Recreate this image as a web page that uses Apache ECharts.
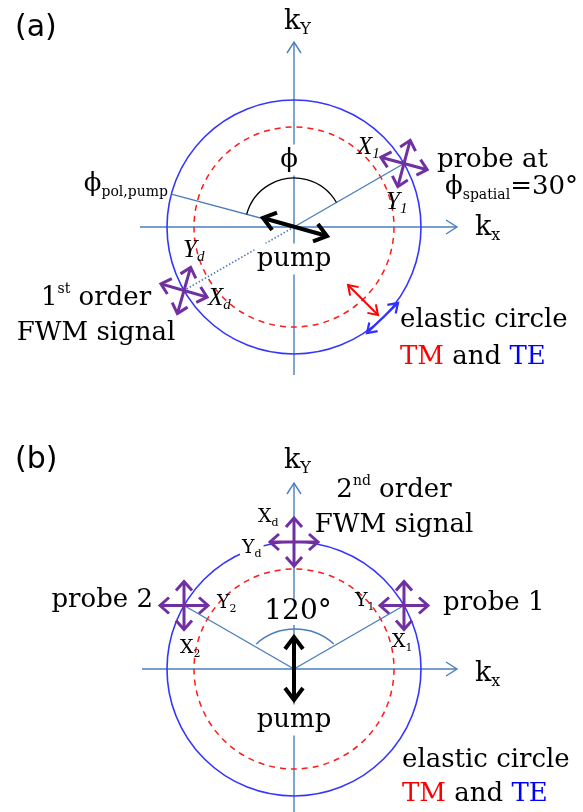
<!DOCTYPE html>
<html><head><meta charset="utf-8">
<script src="https://cdn.jsdelivr.net/npm/echarts@6/dist/echarts.min.js"></script>
<style>html,body{margin:0;padding:0;background:#fff}#c{width:583px;height:812px}</style>
</head><body><div id="c"></div>
<script>
// ---------------- values (k-space drawing units) ----------------
const circleNames = ['TE', 'TM'];
const circleRadii = [127, 100];          // elastic circles: TE (blue, solid), TM (red, dashed)
// panel (a)
const probeAnglesA = [30];               // φ_spatial of the probe (deg)
const pumpPolAngleA = 165;               // φ_pol,pump line (deg)
const fwmAnglesA = [210];                // 1st order FWM signal direction (deg)
const polTiltA = [-15, -16];             // tilt of X/Y polarisation crosses (probe, signal)
const phiArcA = [49, 30, 165];           // arc radius, start, end (deg)
const pumpAxisA = [[-31, 9], [33, -9]];  // pump polarisation double arrow
const tmMarkA = [[54, -58], [84, -88]];  // red TM double arrow
const teMarkA = [[73, -106], [104, -76]];// blue TE double arrow
const kxSpanA = [-154, 163];
const kySpanA = [-148, 185];
// panel (b)
const probeAnglesB = [30, 150];
const fwmAnglesB = [90];
const polTiltB = [0, 0, 0];
const arcB = [58, 48, 132];              // 120° marker arc: radius, start, end
const arcCenterB = [1, -18];
const pumpAxisB = [[0, 32], [0, -31]];
const kxSpanB = [-152, 163];
const kySpanB = [-143, 186];

// texts
const labelsA = ['{m|(a)}', '{m|k}{s|Y}', '{m|ϕ}', '{m|ϕ}{s|pol,pump}', '{m|X}{s|1}', '{m|Y}{s|1}',
  '{m|probe at}', '{m|ϕ}{s|spatial}{m|=30°}', '{m|pump}', '{m|Y}{s|d}', '{m|X}{s|d}',
  '{m|1}{t|st}{m| order}', '{m|FWM signal}', '{m|elastic circle}', '{r|TM}{m| and }{b|TE}'];
const labelsB = ['{m|(b)}', '{m|k}{s|Y}', '{m|k}{s|x}', '{m|X}{s|d}', '{m|Y}{s|d}', '{m|Y}{s|2}', '{m|X}{s|2}',
  '{m|Y}{s|1}', '{m|X}{s|1}', '{m|probe 2}', '{m|probe 1}', '{m|2}{t|nd}{m| order}', '{m|FWM signal}',
  '{m|120°}', '{m|pump}', '{m|elastic circle}', '{r|TM}{m| and }{b|TE}'];
const kxLabelA = '{m|k}{s|x}';

// ---------------- layout / styles ----------------
const layoutA = [
  [-279, 199, 'left', 'panel', 0], [-10, 205, 'left', 'k', 0], [-5, 67, 'center', 'big', 1],
  [-126, 43, 'right', 'big', 0], [63, 80, 'left', 'ital', 0], [92, 25, 'left', 'ital', 0],
  [143, 67, 'left', 'big', 0], [151, 40, 'left', 'big', 0], [0, -32, 'center', 'big', 1],
  [-111, -23, 'left', 'ital', 0], [-86, -71, 'left', 'ital', 0], [-198, -71, 'center', 'big', 0],
  [-198, -106, 'center', 'big', 0], [106, -93, 'left', 'big', 0], [106, -130, 'left', 'big', 0],
  [181, -1, 'left', 'k', 0]
];
const layoutB = [
  [-279, 209, 'left', 'panel', 0], [-10, 208, 'left', 'k', 0], [181, -5, 'left', 'k', 0],
  [-36, 152, 'left', 'small', 0], [-54, 121, 'left', 'small', 1], [-77, 66, 'left', 'small', 0],
  [-114, 21, 'left', 'small', 0], [61, 68, 'left', 'small', 0], [98, 27, 'left', 'small', 0],
  [-141, 69, 'right', 'big', 0], [149, 66, 'left', 'big', 0], [100, 179, 'center', 'big', 0],
  [100, 144, 'center', 'big', 0], [4, 57, 'center', 'deg', 1], [0, -51, 'center', 'big', 1],
  [108, -91, 'left', 'big', 0], [108, -125, 'left', 'big', 0]
];

const SERIF = '"DejaVu Serif", serif';
const TIMES = '"Liberation Serif", serif';
const SANS = '"DejaVu Sans", sans-serif';
const presets = {
  panel: {font: SANS, size: 30, sub: 14, lh: 36},
  big: {font: SERIF, size: 26, sub: 14, lh: 31},
  k: {font: SERIF, size: 27, sub: 16, lh: 32},
  ital: {font: TIMES, size: 25, sub: 15, lh: 30, italic: true},
  small: {font: SERIF, size: 19, sub: 11, lh: 23},
  deg: {font: SERIF, size: 28, sub: 14, lh: 26}
};
function richFor(p) {
  const fs = p.italic ? 'italic' : 'normal';
  const base = {fontFamily: p.font, fontSize: p.size, fontStyle: fs, lineHeight: p.lh, fill: '#000'};
  const small = {fontFamily: p.font, fontSize: p.sub, fontStyle: fs, lineHeight: p.sub - 2, fill: '#000'};
  return {
    m: base,
    s: Object.assign({}, small, {verticalAlign: 'bottom'}),
    t: Object.assign({}, small, {verticalAlign: 'top'}),
    r: Object.assign({}, base, {fill: '#ff0000'}),
    b: Object.assign({}, base, {fill: '#0000ff'})
  };
}

const AXIS = {stroke: '#4a7ebb', lineWidth: 1.4};
const LINE = {stroke: '#4a7ebb', lineWidth: 1.4};
const DOT = {stroke: '#4a7ebb', lineWidth: 1.5, lineDash: [1.5, 2]};
const TE_STYLE = {stroke: '#3535ff', lineWidth: 1.6};
const TM_STYLE = {stroke: '#ff1a1a', lineWidth: 1.5, lineDash: [6, 5]};
const PURPLE = {stroke: '#7030a0', lineWidth: 3};
const PUMP = {stroke: '#000', lineWidth: 4};
const TMA = {stroke: '#ff0000', lineWidth: 2};
const TEA = {stroke: '#3030ff', lineWidth: 2.2};
const CROSS_ARM = 24;

// ---------------- drawing helpers (all positions via api.coord / api.size) ----------------
const rad = d => d * Math.PI / 180;
const polar = (r, deg) => [r * Math.cos(rad(deg)), r * Math.sin(rad(deg))];
const add = (a, b) => [a[0] + b[0], a[1] + b[1]];
function st(s) { return Object.assign({fill: null, lineCap: 'butt', lineJoin: 'miter'}, s); }
function seg(api, a, b, s) {
  const p = api.coord(a), q = api.coord(b);
  return {type: 'line', shape: {x1: p[0], y1: p[1], x2: q[0], y2: q[1]}, style: st(s)};
}
function head(api, from, to, len, half, s) {
  const p = api.coord(from), q = api.coord(to);
  const dx = q[0] - p[0], dy = q[1] - p[1], L = Math.hypot(dx, dy);
  const ux = dx / L, uy = dy / L;
  const bx = q[0] - ux * len, by = q[1] - uy * len;
  return {type: 'polyline', shape: {points: [[bx - uy * half, by + ux * half], [q[0], q[1]], [bx + uy * half, by - ux * half]]}, style: st(s)};
}
function arrow(api, a, b, s, len, half, dbl) {
  const out = [seg(api, a, b, s), head(api, a, b, len, half, s)];
  if (dbl) out.push(head(api, b, a, len, half, s));
  return out;
}
function circle(api, c, r, s) {
  const p = api.coord(c);
  return {type: 'circle', shape: {cx: p[0], cy: p[1], r: api.size([r, 0])[0]}, style: st(s)};
}
function arc(api, c, a, s) {
  const p = api.coord(c);
  return {type: 'arc', shape: {cx: p[0], cy: p[1], r: api.size([a[0], 0])[0],
    startAngle: -rad(a[1]), endAngle: -rad(a[2]), clockwise: false}, style: st(s)};
}
function cross(api, c, tilt) {
  let out = [];
  for (let k = 0; k < 4; k++) out = out.concat(arrow(api, c, add(c, polar(CROSS_ARM, tilt + 90 * k)), PURPLE, 9, 8, false));
  return out;
}

function diagramA(params, api) {
  const O = [0, 0], R = circleRadii[0];
  let ch = [];
  ch = ch.concat(arrow(api, [kxSpanA[0], 0], [kxSpanA[1], 0], AXIS, 11, 7));
  ch = ch.concat(arrow(api, [0, kySpanA[0]], [0, kySpanA[1]], AXIS, 11, 7));
  ch.push(circle(api, O, circleRadii[0], TE_STYLE));
  ch.push(circle(api, O, circleRadii[1], TM_STYLE));
  ch.push(seg(api, O, polar(R, pumpPolAngleA), LINE));
  probeAnglesA.forEach(a => ch.push(seg(api, O, polar(R, a), LINE)));
  fwmAnglesA.forEach(a => ch.push(seg(api, O, polar(R, a), DOT)));
  ch.push(arc(api, O, phiArcA, {stroke: '#000', lineWidth: 1.3}));
  ch = ch.concat(arrow(api, pumpAxisA[0], pumpAxisA[1], PUMP, 12, 9, true));
  ch = ch.concat(arrow(api, tmMarkA[0], tmMarkA[1], TMA, 9, 6, true));
  ch = ch.concat(arrow(api, teMarkA[0], teMarkA[1], TEA, 9, 6, true));
  probeAnglesA.forEach(a => { ch = ch.concat(cross(api, polar(R, a), polTiltA[0])); });
  fwmAnglesA.forEach(a => { ch = ch.concat(cross(api, polar(R, a), polTiltA[1])); });
  return {type: 'group', children: ch};
}
function diagramB(params, api) {
  const O = [0, 0], R = circleRadii[0];
  let ch = [];
  ch = ch.concat(arrow(api, [kxSpanB[0], 0], [kxSpanB[1], 0], AXIS, 11, 7));
  ch = ch.concat(arrow(api, [0, kySpanB[0]], [0, kySpanB[1]], AXIS, 11, 7));
  ch.push(circle(api, O, circleRadii[0], TE_STYLE));
  ch.push(circle(api, O, circleRadii[1], TM_STYLE));
  probeAnglesB.forEach(a => ch.push(seg(api, O, polar(R, a), LINE)));
  ch.push(arc(api, arcCenterB, arcB, {stroke: '#4a7ebb', lineWidth: 1.4}));
  ch = ch.concat(arrow(api, pumpAxisB[0], pumpAxisB[1], PUMP, 12, 9, true));
  fwmAnglesB.forEach(a => { ch = ch.concat(cross(api, polar(R, a), polTiltB[0])); });
  probeAnglesB.forEach((a, i) => { ch = ch.concat(cross(api, polar(R, a), polTiltB[i + 1])); });
  return {type: 'group', children: ch};
}
function textRenderer(labels, layout) {
  return function (params, api) {
    const i = params.dataIndex, L = layout[i], p = presets[L[3]];
    const pt = api.coord([api.value(0), api.value(1)]);
    return {type: 'text', x: pt[0], y: pt[1], z2: 10,
      style: {text: labels[i], rich: richFor(p), align: L[2], verticalAlign: 'middle',
        fontFamily: p.font, fontSize: p.size, fill: '#000',
        backgroundColor: L[4] ? '#fff' : null, padding: L[4] ? [0, 2, 0, 2] : 0}};
  };
}

const allLabelsA = labelsA.concat([kxLabelA]);
const chart = echarts.init(document.getElementById('c'), null, {renderer: 'canvas'});
chart.setOption({
  backgroundColor: '#fff',
  animation: false,
  grid: [
    {left: 0, right: 0, top: 0, height: 406},
    {left: 0, right: 0, top: 406, height: 406}
  ],
  xAxis: [
    {type: 'value', gridIndex: 0, min: -294, max: 289, show: false},
    {type: 'value', gridIndex: 1, min: -294, max: 289, show: false}
  ],
  yAxis: [
    {type: 'value', gridIndex: 0, min: -179, max: 227, show: false},
    {type: 'value', gridIndex: 1, min: -143, max: 263, show: false}
  ],
  series: [
    {type: 'custom', xAxisIndex: 0, yAxisIndex: 0, clip: false, silent: true, data: [[0, 0]], renderItem: diagramA},
    {type: 'custom', xAxisIndex: 1, yAxisIndex: 1, clip: false, silent: true, data: [[0, 0]], renderItem: diagramB},
    {type: 'custom', xAxisIndex: 0, yAxisIndex: 0, clip: false, silent: true, z: 5,
      data: layoutA.map(l => [l[0], l[1]]), renderItem: textRenderer(allLabelsA, layoutA)},
    {type: 'custom', xAxisIndex: 1, yAxisIndex: 1, clip: false, silent: true, z: 5,
      data: layoutB.map(l => [l[0], l[1]]), renderItem: textRenderer(labelsB, layoutB)}
  ]
});
</script></body></html>
